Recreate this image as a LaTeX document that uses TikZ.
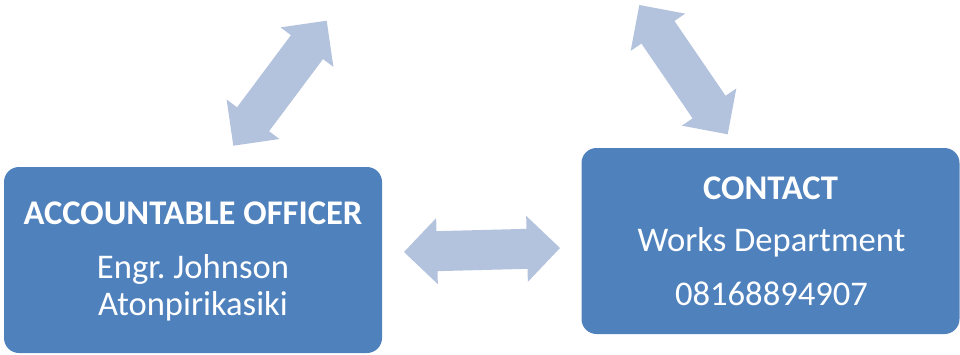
\documentclass[tikz,border=0pt]{standalone}
\usepackage{fontspec}
\setmainfont{Carlito}
\usetikzlibrary{calc}
\definecolor{boxblue}{HTML}{4F81BD}
\definecolor{arrowblue}{HTML}{B3C3DD}
\tikzset{
  infobox/.style={rectangle, rounded corners=15pt, fill=boxblue, draw=none,
    inner sep=0pt, minimum width=378pt, minimum height=186pt},
  boxtext/.style={text=white, anchor=base, inner sep=0pt,
    font=\fontsize{34.6}{40}\selectfont},
  boxhead/.style={boxtext, font=\fontsize{34.6}{40}\selectfont\bfseries},
  dblarrow/.style={fill=arrowblue, draw=none}
}
% fat double-headed arrow between two named points
\newcommand\fatarrow[2]{%
  \fill[dblarrow] let \p1=($(#2)-(#1)$), \n1={atan2(\y1,\x1)} in
    (#1) -- ($(#1)+(\n1:33pt)+(\n1+90:33pt)$) -- ($(#1)+(\n1:33pt)+(\n1+90:20pt)$)
    -- ($(#2)+(\n1:-33pt)+(\n1+90:20pt)$) -- ($(#2)+(\n1:-33pt)+(\n1+90:33pt)$)
    -- (#2)
    -- ($(#2)+(\n1:-33pt)+(\n1-90:33pt)$) -- ($(#2)+(\n1:-33pt)+(\n1-90:20pt)$)
    -- ($(#1)+(\n1:33pt)+(\n1-90:20pt)$) -- ($(#1)+(\n1:33pt)+(\n1-90:33pt)$)
    -- cycle;}
\begin{document}
\begin{tikzpicture}[x=1pt, y=1pt]
  \useasboundingbox (0,0) rectangle (960,354);

  % boxes
  \node[infobox] (officer) at (193,94) {};
  \node[infobox] (contact) at (770.5,113) {};

  % box texts
  \node[boxhead] (officertitle) at (193,130) {ACCOUNTABLE OFFICER};
  \node[boxtext] (officername1) at (193,76) {Engr.~Johnson};
  \node[boxtext] (officername2) at (193,39) {Atonpirikasiki};

  \node[boxhead] (contacttitle) at (770.5,155) {CONTACT};
  \node[boxtext] (contactdept) at (771.5,103) {Works Department};
  \node[boxtext] (contactphone) at (771.5,49) {08168894907};

  % arrow end points
  \coordinate (midL) at (404,102);
  \coordinate (midR) at (560,106);
  \coordinate (tlLow) at (233.3,208.3);
  \coordinate (tlHigh) at (326.7,333.3);
  \coordinate (trHigh) at (639.3,349);
  \coordinate (trLow) at (727.7,219.7);

  \fatarrow{midL}{midR}
  \fatarrow{tlLow}{tlHigh}
  \fatarrow{trHigh}{trLow}
\end{tikzpicture}
\end{document}
